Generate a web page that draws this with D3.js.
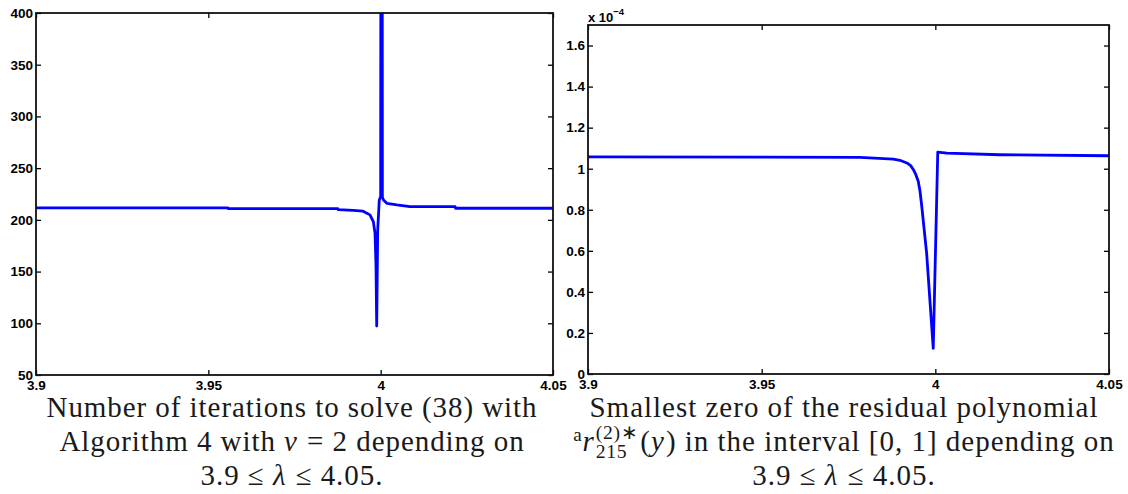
<!DOCTYPE html>
<html><head><meta charset="utf-8">
<script src="https://cdn.jsdelivr.net/npm/d3@7"></script>
<style>
body{margin:0;background:#fff}
text{white-space:pre}
</style>
</head><body>
<svg id="c" width="1128" height="494"></svg>
<script>
// ---- data ----
const lambdaDomain = [3.9, 4.05];
const xTicks = [3.9, 3.95, 4, 4.05];
const iterDomain = [50, 400];
const iterTicks = [50, 100, 150, 200, 250, 300, 350, 400];
const zeroDomain = [0, 1.7];           // in units of 1e-4
const zeroTicks = [0, 0.2, 0.4, 0.6, 0.8, 1, 1.2, 1.4, 1.6];

const iterLambda = [3.9, 3.9557, 3.9558, 3.9876, 3.9877, 3.992, 3.9949, 3.9969, 3.99787, 3.99836, 3.99865, 3.99885,
  3.99914, 3.9996, 4.0000, 4.0001, 4.0004, 4.0005, 4.0008, 4.0018, 4.0047, 4.0085, 4.0216, 4.0217, 4.05];
const iterValues = [211.6, 211.6, 210.8, 210.8, 209.8, 209.2, 208.4, 204.8, 198.3, 187.3, 154.7, 97.4,
  190.2, 219.2, 222.5, 700, 700, 222, 219.2, 216, 214.4, 212.8, 212.8, 211.2, 211.2];

const zeroLambda = [3.9, 3.9783, 3.9879, 3.9898, 3.9918, 3.9929, 3.9937, 3.9944, 3.9951, 3.9956, 3.9961, 3.9975, 3.9994,
  4.0007, 4.0033, 4.0186, 4.05];
const zeroValues = [1.058, 1.055, 1.047, 1.041, 1.028, 1.015, 0.995, 0.971, 0.938, 0.889, 0.816, 0.588, 0.125,
  1.081, 1.076, 1.068, 1.063];

const capLeft = [
  [{t:"Number of iterations to solve (38) with"}],
  [{t:"Algorithm 4 with "},{t:"ν",i:1},{t:" = 2 depending on"}],
  [{t:"3.9 ≤ "},{t:"λ",i:1},{t:" ≤ 4.05."}]
];
const capRight = [
  [{t:"Smallest zero of the residual polynomial"}],
  [{t:"a",s:0.66,dy:-10},{t:"r",i:1},{sup:"(2)∗",sub:"215"},{t:"("},{t:"y",i:1},{t:") in the interval [0, 1] depending on"}],
  [{t:"3.9 ≤ "},{t:"λ",i:1},{t:" ≤ 4.05."}]
];

// ---- drawing ----
const svg = d3.select("#c");
const tickFont = "Liberation Sans, Arial, Helvetica, sans-serif";

function panel(id, box, yDomain, yTicks, xs, ys) {
  const x = d3.scaleLinear().domain(lambdaDomain).range([box.l, box.r]);
  const y = d3.scaleLinear().domain(yDomain).range([box.b, box.t]);
  const g = svg.append("g");
  g.append("clipPath").attr("id", "clip" + id).append("rect")
    .attr("x", box.l).attr("y", box.t).attr("width", box.r - box.l).attr("height", box.b - box.t);

  const fmt = d3.format("~g");
  const axB = g.append("g").attr("transform", `translate(0,${box.b})`)
    .call(d3.axisBottom(x).tickValues(xTicks).tickSize(-5).tickPadding(5).tickFormat(fmt));
  const axT = g.append("g").attr("transform", `translate(0,${box.t})`)
    .call(d3.axisTop(x).tickValues(xTicks).tickSize(-5).tickFormat(""));
  const axL = g.append("g").attr("transform", `translate(${box.l},0)`)
    .call(d3.axisLeft(y).tickValues(yTicks).tickSize(-5).tickPadding(3).tickFormat(fmt));
  const axR = g.append("g").attr("transform", `translate(${box.r},0)`)
    .call(d3.axisRight(y).tickValues(yTicks).tickSize(-5).tickFormat(""));
  [axB, axT, axL, axR].forEach(a => {
    a.attr("font-family", tickFont).attr("font-size", 13.5).attr("font-weight", 700);
    a.select(".domain").remove();
    a.selectAll("line").attr("stroke", "#000").attr("stroke-width", 1.3);
    a.selectAll("text").attr("fill", "#000");
  });

  const pts = xs.map((d, i) => [d, ys[i]]);
  g.append("path").datum(pts)
    .attr("clip-path", `url(#clip${id})`)
    .attr("fill", "none").attr("stroke", "#0000ff").attr("stroke-width", 2.8)
    .attr("stroke-linejoin", "round").attr("stroke-linecap", "round")
    .attr("d", d3.line().x(d => x(d[0])).y(d => y(d[1])));

  g.append("rect").attr("x", box.l).attr("y", box.t)
    .attr("width", box.r - box.l).attr("height", box.b - box.t)
    .attr("fill", "none").attr("stroke", "#111").attr("stroke-width", 1.8);
  return g;
}

panel("L", {l:36, r:553, t:13, b:375}, iterDomain, iterTicks, iterLambda, iterValues);
const gR = panel("R", {l:588, r:1109, t:25, b:374}, zeroDomain, zeroTicks, zeroLambda, zeroValues);

// exponent label
const ex = gR.append("text").attr("x", 588).attr("y", 22)
  .attr("font-family", tickFont).attr("font-weight", 700).attr("font-size", 13).attr("fill", "#000");
ex.append("tspan").text("x 10");
ex.append("tspan").attr("dy", -7).attr("font-size", 9.5).text("−4");

// captions
const capFont = "Liberation Serif, Times New Roman, serif";
const capSize = 29;
function caption(lines, cx, baselines, targetW) {
  const probe = svg.append("text").attr("font-family", capFont).attr("font-size", capSize).text(lines[0][0].t);
  const w0 = probe.node().getComputedTextLength();
  const ls = (targetW - w0) / lines[0][0].t.length;
  probe.remove();
  lines.forEach((segs, li) => {
    const g = svg.append("g");
    let cur = 0;
    const mk = (t, size, dy, italic) => g.append("text").attr("x", cur).attr("y", baselines[li] + dy)
        .attr("font-family", capFont).attr("font-size", size).attr("letter-spacing", ls * size / capSize)
        .attr("fill", "#1a1a1a").attr("font-style", italic ? "italic" : "normal").text(t);
    segs.forEach(s => {
      if (s.sup !== undefined) {
        const a = mk(s.sup, capSize * 0.68, -12, false);
        const b = mk(s.sub, capSize * 0.68, 7, false);
        cur += Math.max(a.node().getComputedTextLength(), b.node().getComputedTextLength()) + 2;
      } else {
        const el = mk(s.t, capSize * (s.s || 1), s.dy || 0, s.i);
        cur += el.node().getComputedTextLength() + (s.i ? 1 : 0);
      }
    });
    g.attr("transform", `translate(${cx - cur / 2},0)`);
  });
}
caption(capLeft, 292, [417, 451, 485], 491);
caption(capRight, 844, [417, 451, 485], 509);
</script>
</body></html>
